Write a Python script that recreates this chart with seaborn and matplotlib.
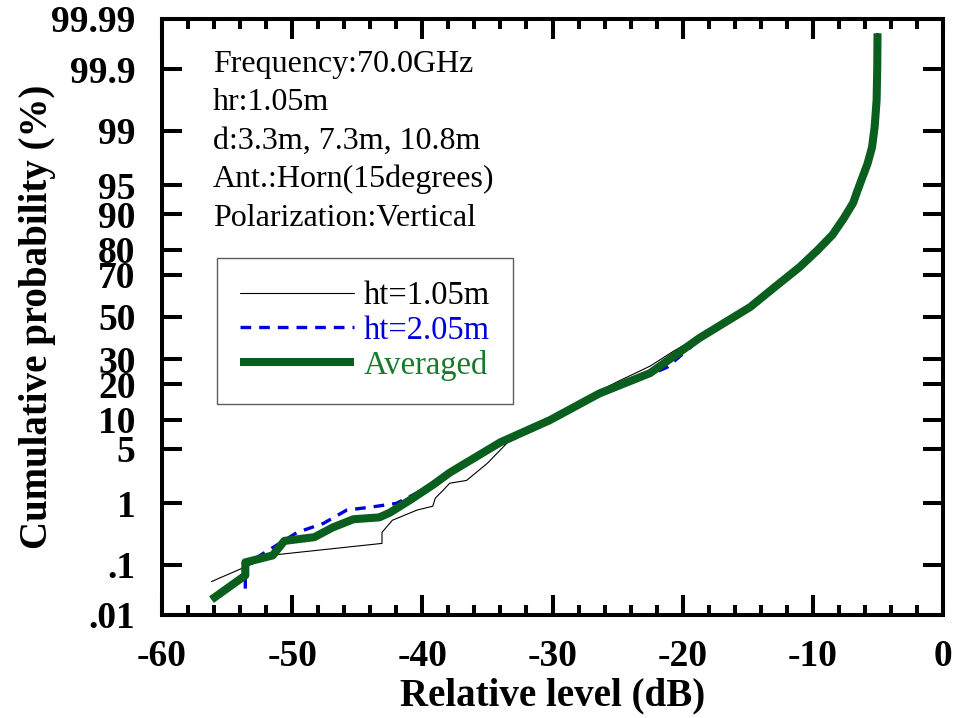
import numpy as np
import pandas as pd
import matplotlib
matplotlib.use("Agg")
import matplotlib.pyplot as plt
import seaborn as sns
from statistics import NormalDist
from matplotlib.ticker import FixedLocator, FixedFormatter, MultipleLocator, NullLocator

sns.set_theme(style="ticks")
plt.rcParams['font.family'] = ['Liberation Serif', 'DejaVu Serif']
plt.rcParams['axes.unicode_minus'] = False

# ---------------- data ----------------
avg_x = [-56.2, -53.6, -53.6, -51.5, -50.6, -48.3, -46.9, -45.3, -43.3, -42.5,
         -41.0, -39.2, -37.9, -34.0, -30.2, -26.4, -22.5, -18.7, -14.8, -13.0,
         -11.0, -9.7, -8.5, -7.6, -6.9, -6.6, -6.2, -5.8, -5.45, -5.25,
         -5.1, -5.05, -5.03]
avg_p = [0.021, 0.063, 0.11, 0.146, 0.26, 0.30, 0.43, 0.58, 0.62, 0.73,
         1.1, 1.8, 2.6, 5.9, 9.9, 17.0, 24.2, 39.7, 55.0, 64.2,
         73.4, 79.5, 84.7, 89.2, 92.3, 94.1, 95.9, 97.2, 98.3, 99.12,
         99.66, 99.91, 99.98]

ht1_x = [-56.2, -53.5, -51.3, -43.1, -43.1, -42.3, -40.4, -39.2, -39.0, -38.4,
         -37.9, -36.6, -35.0, -33.0, -30.2, -26.4, -25.0, -22.5, -20.7, -18.7,
         -14.8, -13.0, -11.0, -9.7, -8.5, -7.6, -6.9, -6.6, -6.2, -5.8,
         -5.45, -5.25, -5.1, -5.05, -5.03]
ht1_p = [0.048, 0.093, 0.15, 0.236, 0.36, 0.56, 0.80, 0.91, 1.19, 1.53,
         1.9, 2.07, 3.4, 6.8, 10.2, 17.8, 21.0, 27.0, 33.5, 40.5,
         55.0, 64.2, 73.4, 79.5, 84.7, 89.2, 92.3, 94.1, 95.9, 97.2,
         98.3, 99.12, 99.66, 99.91, 99.98]

ht2_x = [-53.6, -53.6, -52.7, -49.6, -47.6, -45.8, -44.0, -42.0, -40.0, -38.4,
         -36.6, -32.7, -30.2, -26.4, -23.8, -21.2, -18.7, -14.8, -13.0, -11.0,
         -9.7, -8.5, -7.6, -6.9, -6.6, -6.2, -5.8, -5.45, -5.25, -5.1,
         -5.05, -5.03]
ht2_p = [0.035, 0.11, 0.135, 0.36, 0.50, 0.80, 0.88, 1.0, 1.53, 2.4,
         3.7, 6.7, 9.7, 16.4, 21.0, 26.5, 39.0, 55.0, 64.2, 73.4,
         79.5, 84.7, 89.2, 92.3, 94.1, 95.9, 97.2, 98.3, 99.12, 99.66,
         99.91, 99.98]

y_ticks = [0.01, 0.1, 1, 5, 10, 20, 30, 50, 70, 80, 90, 95, 99, 99.9, 99.99]
y_tick_labels = ['.01', '.1', '1', '5', '10', '20', '30', '50', '70', '80',
                 '90', '95', '99', '99.9', '99.99']

info_lines = ["Frequency:70.0GHz", "hr:1.05m", "d:3.3m, 7.3m, 10.8m",
              "Ant.:Horn(15degrees)", "Polarization:Vertical"]

labels = ["ht=1.05m", "ht=2.05m", "Averaged"]

# ---------------- probit scale ----------------
_nd = NormalDist()
_inv_cdf = np.vectorize(_nd.inv_cdf, otypes=[float])
_cdf = np.vectorize(_nd.cdf, otypes=[float])


def fwd(p):
    p = np.asarray(p, dtype=float)
    q = np.clip(p / 100.0, 1e-12, 1 - 1e-12)
    if q.size == 0:
        return q
    return _inv_cdf(q)


def inv(z):
    z = np.asarray(z, dtype=float)
    if z.size == 0:
        return z
    return _cdf(z) * 100.0


W, H = 954, 718
fig, ax = plt.subplots(figsize=(W / 100, H / 100), dpi=100)
fig.subplots_adjust(left=162 / W, right=943 / W, bottom=1 - 615 / H, top=1 - 19 / H)

green = '#0a5e1e'
blue = '#0000dd'

d1 = pd.DataFrame({'x': ht1_x, 'p': ht1_p})
d2 = pd.DataFrame({'x': ht2_x, 'p': ht2_p})
da = pd.DataFrame({'x': avg_x, 'p': avg_p})

sns.lineplot(data=d1, x='x', y='p', sort=False, estimator=None, ax=ax,
             color='black', linewidth=0.8, label=labels[0], zorder=2)
sns.lineplot(data=d2, x='x', y='p', sort=False, estimator=None, ax=ax,
             color=blue, linewidth=2.4, linestyle=(0, (3.2, 2.4)),
             label=labels[1], zorder=3)
sns.lineplot(data=da, x='x', y='p', sort=False, estimator=None, ax=ax,
             color=green, linewidth=5.8, label=labels[2], zorder=4,
             solid_capstyle='butt', solid_joinstyle='round')

ax.set_yscale('function', functions=(fwd, inv))
ax.set_xlim(-60, 0)
ax.set_ylim(0.01, 99.99)

ax.yaxis.set_major_locator(FixedLocator(y_ticks))
ax.yaxis.set_major_formatter(FixedFormatter(y_tick_labels))
ax.yaxis.set_minor_locator(NullLocator())
ax.xaxis.set_major_locator(MultipleLocator(10))
ax.xaxis.set_minor_locator(MultipleLocator(2))

ax.tick_params(axis='both', which='both', direction='in', top=True, right=True,
               bottom=True, left=True, color='black', width=2.9)
ax.tick_params(axis='both', which='major', length=14.4, labelsize=27,
               labelcolor='black')
ax.tick_params(axis='x', which='major', pad=17)
ax.tick_params(axis='y', which='major', pad=19)
ax.tick_params(axis='both', which='minor', length=7.2)
for lab in ax.get_xticklabels() + ax.get_yticklabels():
    lab.set_fontweight('bold')

for s in ax.spines.values():
    s.set_visible(True)
    s.set_color('black')
    s.set_linewidth(2.9)

ax.set_xlabel("Relative level (dB)", fontsize=28, fontweight='bold', color='black',
              va='top')
ax.set_ylabel("Cumulative probability (%)", fontsize=28, fontweight='bold',
              color='black')
ax.xaxis.set_label_coords(0.5, (615 - 677) / 596)
ax.yaxis.set_label_coords((56 - 162) / 781, 0.5)

for i, line in enumerate(info_lines):
    b = 72 + 38.5 * i
    ax.text((213 - 162) / 781, (615 - b) / 596, line, transform=ax.transAxes,
            fontsize=23, va='baseline', ha='left', color='black')

leg = ax.legend(loc='upper left', bbox_to_anchor=((217 - 162) / 781, (615 - 258) / 596),
                borderaxespad=0, frameon=True, fancybox=False, fontsize=23.5,
                handlelength=3.5, handletextpad=0.3, borderpad=0.7,
                labelspacing=0.12, labelcolor=['black', blue, '#167a2a'])
leg.get_frame().set_edgecolor('#333333')
leg.get_frame().set_linewidth(1.0)

fig.savefig('out.png', dpi=100)
